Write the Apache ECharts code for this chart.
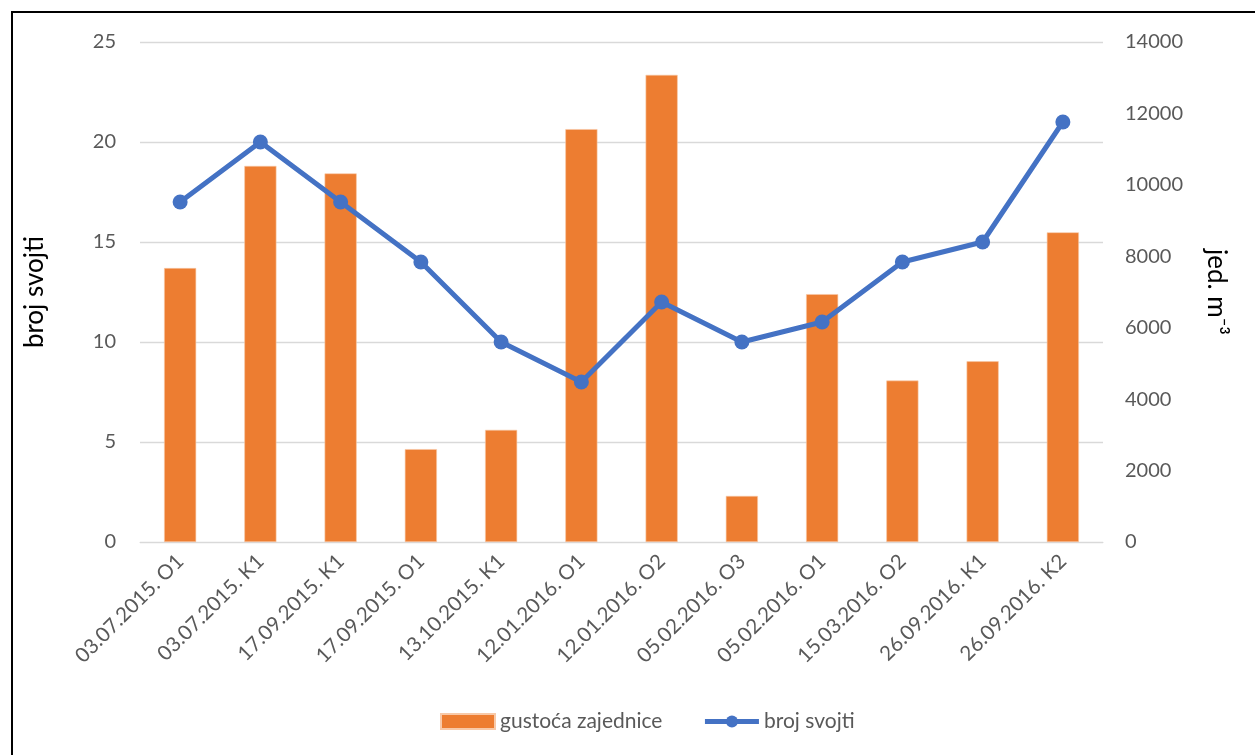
<!DOCTYPE html>
<html>
<head>
<meta charset="utf-8">
<script src="https://cdn.jsdelivr.net/npm/echarts@6/dist/echarts.min.js"></script>
<style>
html,body{margin:0;padding:0;background:#fff;}
#c{width:1255px;height:755px;}
</style>
</head>
<body>
<div id="c"></div>
<script>
const categories = ['03.07.2015. O1','03.07.2015. K1','17.09.2015. K1','17.09.2015. O1','13.10.2015. K1','12.01.2016. O1','12.01.2016. O2','05.02.2016. O3','05.02.2016. O1','15.03.2016. O2','26.09.2016. K1','26.09.2016. K2'];
const gustoca = [7670, 10530, 10320, 2600, 3140, 11560, 13080, 1290, 6940, 4520, 5060, 8670];
const brojSvojti = [17, 20, 17, 14, 10, 8, 12, 10, 11, 14, 15, 21];
const leftTicks = {min: 0, max: 25, interval: 5};
const rightTicks = {min: 0, max: 14000, interval: 2000};

const FONT = 'Lato';
const chart = echarts.init(document.getElementById('c'));
chart.setOption({
  animation: false,
  textStyle: {fontFamily: FONT},
  graphic: [{
    type: 'rect', silent: true,
    shape: {x: 12, y: 12, width: 1270, height: 770},
    style: {fill: 'none', stroke: '#000', lineWidth: 2}
  }],
  grid: {left: 140, right: 152, top: 42, bottom: 213},
  legend: {
    bottom: 18, left: 435,
    itemGap: 40, itemWidth: 54, itemHeight: 15,
    textStyle: {fontFamily: FONT, fontSize: 21, color: '#595959'},
    data: [
      {name: 'gustoća zajednice', icon: 'rect'},
      {name: 'broj svojti', lineStyle: {width: 5}}
    ]
  },
  xAxis: {
    type: 'category',
    data: categories,
    axisLine: {lineStyle: {color: '#D9D9D9', width: 1}},
    axisTick: {show: false},
    axisLabel: {rotate: 45, fontSize: 20.5, color: '#595959', margin: 16, fontFamily: FONT, interval: 0}
  },
  yAxis: [{
    type: 'value', min: leftTicks.min, max: leftTicks.max, interval: leftTicks.interval,
    name: 'broj svojti', nameLocation: 'middle', nameGap: 92, nameRotate: 90,
    nameTextStyle: {fontSize: 26, color: '#000', fontFamily: FONT},
    axisLine: {show: false}, axisTick: {show: false},
    axisLabel: {fontSize: 20, color: '#595959', margin: 24, fontFamily: FONT},
    splitLine: {lineStyle: {color: '#D9D9D9', width: 1.3}}
  }, {
    type: 'value', min: rightTicks.min, max: rightTicks.max, interval: rightTicks.interval,
    name: 'jed. m⁻³', nameLocation: 'middle', nameGap: 100, nameRotate: -90,
    nameTextStyle: {fontSize: 26, color: '#000', fontFamily: FONT},
    axisLine: {show: false}, axisTick: {show: false},
    axisLabel: {fontSize: 20, color: '#595959', margin: 22, fontFamily: FONT, formatter: v => String(v)},
    splitLine: {show: false}
  }],
  series: [{
    name: 'gustoća zajednice', type: 'bar', yAxisIndex: 1,
    data: gustoca, barWidth: '40%',
    itemStyle: {color: '#ED7D31', borderColor: '#F8C9A8', borderWidth: 0.6}
  }, {
    name: 'broj svojti', type: 'line', yAxisIndex: 0,
    data: brojSvojti, symbol: 'circle', symbolSize: 15,
    lineStyle: {color: '#4472C4', width: 5},
    itemStyle: {color: '#4472C4'}
  }]
});
</script>
</body>
</html>
